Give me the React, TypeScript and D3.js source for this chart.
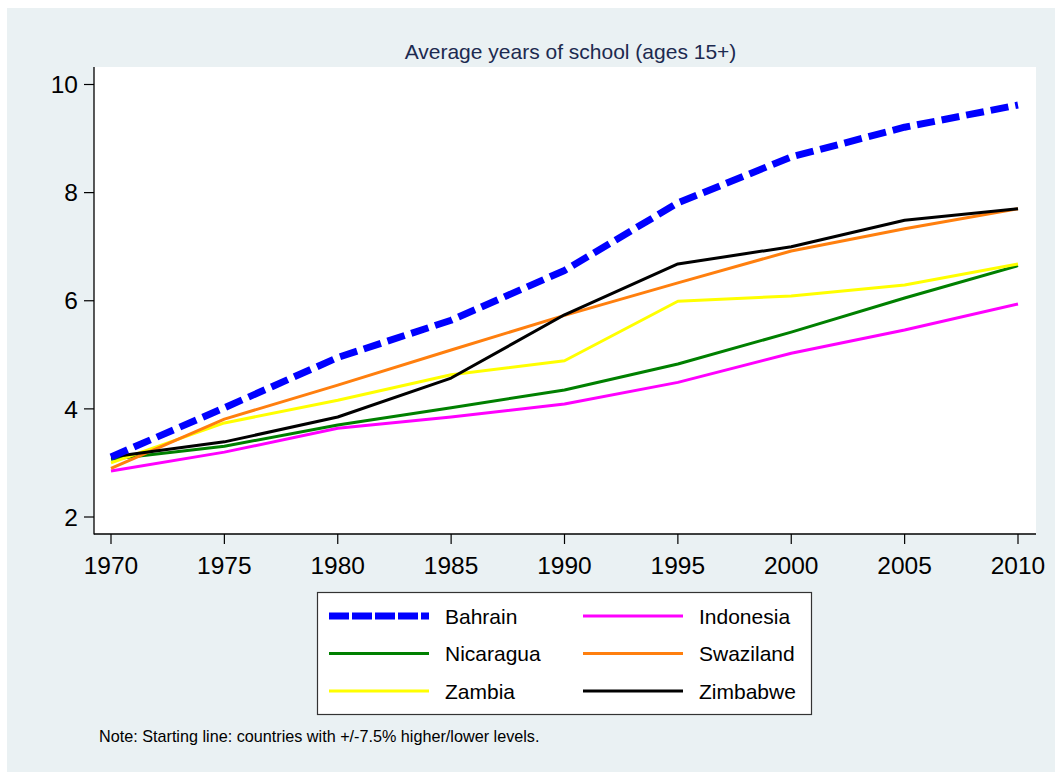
import React from "react";
import * as d3 from "d3";

const years = [1970, 1975, 1980, 1985, 1990, 1995, 2000, 2005, 2010];
const bahrain = [3.11, 4.02, 4.95, 5.64, 6.56, 7.81, 8.66, 9.21, 9.62];
const indonesia = [2.85, 3.2, 3.64, 3.85, 4.09, 4.49, 5.03, 5.46, 5.94];
const nicaragua = [3.07, 3.31, 3.7, 4.02, 4.35, 4.83, 5.42, 6.05, 6.65];
const swaziland = [2.9, 3.81, 4.44, 5.09, 5.73, 6.33, 6.92, 7.33, 7.7];
const zambia = [3.0, 3.74, 4.16, 4.63, 4.89, 5.99, 6.09, 6.29, 6.68];
const zimbabwe = [3.11, 3.39, 3.85, 4.57, 5.74, 6.68, 7.0, 7.49, 7.7];
const yTicks = [2, 4, 6, 8, 10];

const series = [
  { name: "Bahrain", values: bahrain, color: "#0000ff", width: 7, dash: "18 7" },
  { name: "Indonesia", values: indonesia, color: "#ff00ff", width: 3, dash: "" },
  { name: "Nicaragua", values: nicaragua, color: "#008000", width: 3, dash: "" },
  { name: "Swaziland", values: swaziland, color: "#ff7f0e", width: 3, dash: "" },
  { name: "Zambia", values: zambia, color: "#ffff00", width: 3, dash: "" },
  { name: "Zimbabwe", values: zimbabwe, color: "#000000", width: 3, dash: "" },
];
// draw order (back to front)
const drawOrder = ["Indonesia", "Nicaragua", "Zambia", "Swaziland", "Zimbabwe", "Bahrain"];

const W = 1055;
const H = 772;
const plotL = 94;
const plotR = 1036;
const plotT = 67;
const plotB = 534;

export default function App() {
  const x = d3.scaleLinear().domain([1970, 2010]).range([111, 1018]);
  const y = d3.scaleLinear().domain([2, 10]).range([517, 84.5]);
  const line = d3
    .line<number>()
    .x((_, i) => x(years[i]))
    .y((d) => y(d));
  const font = "Liberation Sans, Arial, Helvetica, sans-serif";

  const legendItems = series;
  return (
    <svg
      width={W}
      height={H}
      style={{ position: "absolute", left: 0, top: 0 }}
      fontFamily={font}
    >
      <rect x={0} y={0} width={W} height={H} fill="#ffffff" />
      <rect x={7} y={8} width={W - 7} height={H - 8} fill="#eaf1f3" />
      <rect x={plotL} y={plotT} width={plotR - plotL} height={plotB - plotT} fill="#ffffff" />
      <text x={570.5} y={59} textAnchor="middle" fontSize={21} fill="#1c2a50">
        Average years of school (ages 15+)
      </text>
      {/* axes */}
      <line x1={plotL} x2={plotL} y1={plotT} y2={plotB + 0.5} stroke="#000" strokeWidth={1.3} />
      <line x1={plotL} x2={plotR} y1={plotB} y2={plotB} stroke="#000" strokeWidth={1.3} />
      {yTicks.map((t) => (
        <g key={t}>
          <line x1={84} x2={plotL} y1={y(t)} y2={y(t)} stroke="#000" strokeWidth={1.2} />
          <text x={78} y={y(t) + 8.7} textAnchor="end" fontSize={24.5} fill="#000">
            {t}
          </text>
        </g>
      ))}
      {years.map((t) => (
        <g key={t}>
          <line x1={x(t)} x2={x(t)} y1={plotB} y2={544} stroke="#000" strokeWidth={1.2} />
          <text x={x(t)} y={574} textAnchor="middle" fontSize={24.5} fill="#000">
            {t}
          </text>
        </g>
      ))}
      {drawOrder.map((n) => {
        const s = series.find((d) => d.name === n)!;
        return (
          <path
            key={n}
            d={line(s.values) || ""}
            fill="none"
            stroke={s.color}
            strokeWidth={s.width}
            strokeDasharray={s.dash || undefined}
            strokeLinejoin="round"
          />
        );
      })}
      {/* legend */}
      <rect x={317.5} y={592.5} width={494} height={122} fill="#fff" stroke="#333" strokeWidth={1.2} />
      {legendItems.map((s, i) => {
        const col = i % 2;
        const row = Math.floor(i / 2);
        const lx = col === 0 ? 329 : 583;
        const ly = 616 + row * 37.5;
        return (
          <g key={s.name}>
            <line
              x1={lx}
              x2={lx + 100}
              y1={ly}
              y2={ly}
              stroke={s.color}
              strokeWidth={s.width}
              strokeDasharray={s.dash ? "20 3" : undefined}
            />
            <text x={lx + 116} y={ly + 7.5} fontSize={21} fill="#000">
              {s.name}
            </text>
          </g>
        );
      })}
      <text x={99} y={742} fontSize={16.2} fill="#000">
        Note: Starting line: countries with +/-7.5% higher/lower levels.
      </text>
    </svg>
  );
}
